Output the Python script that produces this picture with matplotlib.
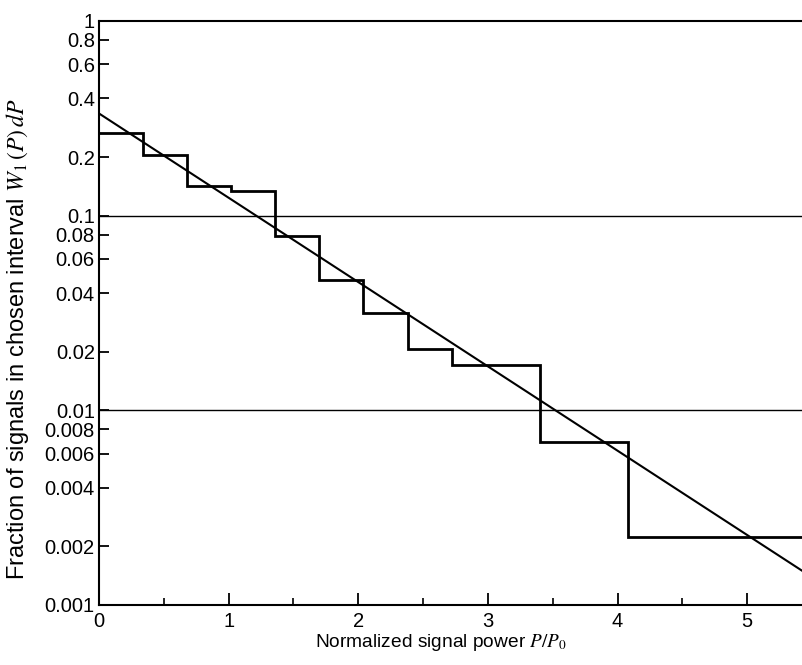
import matplotlib.pyplot as plt
import numpy as np
from matplotlib.ticker import FixedLocator, FixedFormatter

# histogram bins (normalized power P/P0) and fraction per bin
bin_edges = [0.0, 0.34, 0.68, 1.02, 1.36, 1.70, 2.04, 2.38, 2.72, 3.40, 4.08, 5.45]
bin_frac = [0.265, 0.204, 0.142, 0.134, 0.079, 0.0467, 0.0318, 0.0207, 0.0171, 0.0069, 0.00223]

# fitted exponential (straight on log axis), end points
fit_x = [0.0, 5.45]
fit_y = [0.335, 0.00146]

ref_levels = [0.1, 0.01]

y_ticks = [1, 0.8, 0.6, 0.4, 0.2, 0.1, 0.08, 0.06, 0.04, 0.02,
           0.01, 0.008, 0.006, 0.004, 0.002, 0.001]
y_labels = ["1", "0.8", "0.6", "0.4", "0.2", "0.1", "0.08", "0.06", "0.04", "0.02",
            "0.01", "0.008", "0.006", "0.004", "0.002", "0.001"]

plt.rcParams["font.family"] = ["Liberation Sans", "DejaVu Sans"]
plt.rcParams["mathtext.fontset"] = "stix"

fig = plt.figure(figsize=(8.03, 6.65), dpi=100)
ax = fig.add_axes([99 / 803, 60 / 665, 1 - 99 / 803, 584 / 665])

ax.stairs(bin_frac, bin_edges, color="black", linewidth=2.0, baseline=None)
ax.plot(fit_x, fit_y, color="black", linewidth=1.5)
for lvl in ref_levels:
    ax.axhline(lvl, color="black", linewidth=1.0)

ax.set_yscale("log")
ax.set_ylim(0.001, 1)
ax.set_xlim(0, 5.43)

ax.yaxis.set_major_locator(FixedLocator(y_ticks))
ax.yaxis.set_major_formatter(FixedFormatter(y_labels))
ax.yaxis.set_minor_locator(FixedLocator([]))
ax.set_xticks([0, 1, 2, 3, 4, 5])
ax.set_xticks([0.5, 1.5, 2.5, 3.5, 4.5], minor=True)

ax.tick_params(axis="both", which="major", direction="in", length=9, width=1.3,
               labelsize=14.5, pad=5)
ax.tick_params(axis="x", which="minor", direction="in", length=5, width=1.2)
ax.tick_params(axis="y", which="major", length=7, pad=3)

for side in ["left", "bottom", "top"]:
    ax.spines[side].set_linewidth(1.5)
ax.spines["right"].set_visible(False)

ax.set_xlabel("Normalized signal power $P/P_0$", fontsize=13.8)
ax.xaxis.set_label_coords(0.486, -0.046)
ax.set_ylabel("Fraction of signals in chosen interval $W_1\\,(P)\\,dP$", fontsize=17)
ax.yaxis.set_label_coords(-0.097, 0.455)

fig.savefig("out.png", dpi=100)
